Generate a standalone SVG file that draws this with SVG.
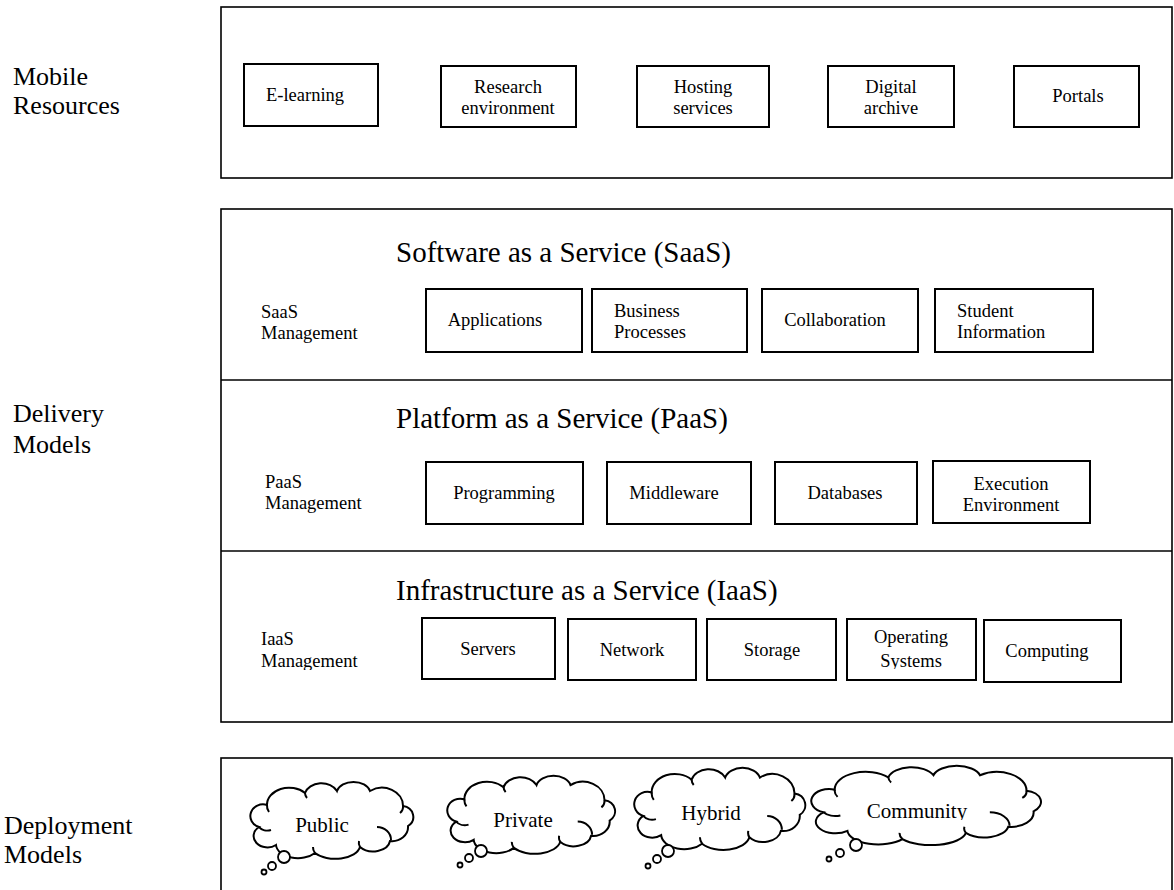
<svg xmlns="http://www.w3.org/2000/svg" xmlns:xlink="http://www.w3.org/1999/xlink" width="1174" height="890" viewBox="0 0 1174 890">
<style>
.frame{fill:none;stroke:#000;stroke-width:1.6}
.box{fill:#fff;stroke:#000;stroke-width:2}
.t{font-family:"Liberation Serif","Times New Roman",serif;fill:#000}
.lbl{font-size:18.5px;text-anchor:middle}
.lbs{font-size:18.5px}
.side{font-size:26px}
.title{font-size:29px}
.ct{font-size:21px;text-anchor:middle}
.cl{fill:#fff;stroke:#000;stroke-width:2;vector-effect:non-scaling-stroke}
.cin{fill:none;stroke:#000;stroke-width:2;vector-effect:non-scaling-stroke}
.bub{fill:#fff;stroke:#000;stroke-width:1.8}
</style>
<defs>
<path id="cloudShape" class="cl" d="M 14 22 A 22 17 0 0 1 52 10 A 17 13 0 0 1 84 8 A 17 12 0 0 1 117 8 A 21 18 0 0 1 150 23 A 12 11 0 0 1 155 43 A 16 14 0 0 1 137 58 A 17 12 0 0 1 107 64 A 25 14 0 0 1 62 70 A 22 14 0 0 1 23 62 A 11 9 0 0 1 6 44 A 12 11 0 0 1 14 22 Z"/>
<path id="cloudInner" class="cin" d="M 14 22 A 10 10 0 0 0 16 29 M 124 44 A 14 13 0 0 1 138 57 M 6 44 A 10 8 0 0 0 18 47 M 52 10 A 8 8 0 0 0 54 15 M 107 64 A 8 8 0 0 1 106 58 M 62 70 A 12 10 0 0 1 60 64 M 150 23 A 8 8 0 0 1 147 30"/>
<clipPath id="clipIaasMgmt"><rect x="240" y="620" width="170" height="50"/></clipPath>
<clipPath id="clipSystems"><rect x="850" y="622" width="124" height="47"/></clipPath>
<clipPath id="clipCommunity"><rect x="850" y="790" width="140" height="30"/></clipPath>
</defs>

<!-- side labels -->
<g id="label-mobile"><text class="t side" x="13" y="85">Mobile</text><text class="t side" x="13" y="114">Resources</text></g>
<g id="label-delivery"><text class="t side" x="13" y="422">Delivery</text><text class="t side" x="13" y="453">Models</text></g>
<g id="label-deployment"><text class="t side" x="4" y="834">Deployment</text><text class="t side" x="4" y="863">Models</text></g>

<!-- frames -->
<g id="frame-mobile"><rect class="frame" x="221" y="7" width="951" height="171"/></g>
<g id="frame-delivery">
<rect class="frame" x="221" y="209" width="951" height="513"/>
<line class="frame" x1="221" y1="380" x2="1172" y2="380"/>
<line class="frame" x1="221" y1="551" x2="1172" y2="551"/>
</g>
<g id="frame-deployment"><rect class="frame" x="221" y="758" width="951" height="140"/></g>

<!-- Mobile resources -->
<g id="n-elearning"><rect class="box" x="244" y="64" width="134" height="62"/><text class="t lbl" x="305" y="101">E-learning</text></g>
<g id="n-research"><rect class="box" x="441" y="66" width="135" height="61"/><text class="t lbl" x="508" y="93">Research</text><text class="t lbl" x="508" y="114">environment</text></g>
<g id="n-hosting"><rect class="box" x="637" y="66" width="132" height="61"/><text class="t lbl" x="703" y="93">Hosting</text><text class="t lbl" x="703" y="114">services</text></g>
<g id="n-digital"><rect class="box" x="828" y="66" width="126" height="61"/><text class="t lbl" x="891" y="93">Digital</text><text class="t lbl" x="891" y="114">archive</text></g>
<g id="n-portals"><rect class="box" x="1014" y="66" width="125" height="61"/><text class="t lbl" x="1078" y="102">Portals</text></g>

<!-- SaaS -->
<g id="saas-title"><text class="t title" x="396" y="262">Software as a Service (SaaS)</text></g>
<g id="saas-mgmt"><text class="t lbs" x="261" y="318">SaaS</text><text class="t lbs" x="261" y="339">Management</text></g>
<g id="n-applications"><rect class="box" x="426" y="289" width="156" height="63"/><text class="t lbl" x="495" y="326">Applications</text></g>
<g id="n-business"><rect class="box" x="592" y="289" width="155" height="63"/><text class="t lbs" x="614" y="317">Business</text><text class="t lbs" x="614" y="338">Processes</text></g>
<g id="n-collaboration"><rect class="box" x="762" y="289" width="156" height="63"/><text class="t lbl" x="835" y="326">Collaboration</text></g>
<g id="n-student"><rect class="box" x="935" y="289" width="158" height="63"/><text class="t lbs" x="957" y="317">Student</text><text class="t lbs" x="957" y="338">Information</text></g>

<!-- PaaS -->
<g id="paas-title"><text class="t title" x="396" y="428">Platform as a Service (PaaS)</text></g>
<g id="paas-mgmt"><text class="t lbs" x="265" y="488">PaaS</text><text class="t lbs" x="265" y="509">Management</text></g>
<g id="n-programming"><rect class="box" x="426" y="462" width="157" height="62"/><text class="t lbl" x="504" y="499">Programming</text></g>
<g id="n-middleware"><rect class="box" x="607" y="462" width="144" height="62"/><text class="t lbl" x="674" y="499">Middleware</text></g>
<g id="n-databases"><rect class="box" x="775" y="462" width="142" height="62"/><text class="t lbl" x="845" y="499">Databases</text></g>
<g id="n-execution"><rect class="box" x="933" y="461" width="157" height="62"/><text class="t lbl" x="1011" y="490">Execution</text><text class="t lbl" x="1011" y="511">Environment</text></g>

<!-- IaaS -->
<g id="iaas-title"><text class="t title" x="396" y="600">Infrastructure as a Service (IaaS)</text></g>
<g id="iaas-mgmt" clip-path="url(#clipIaasMgmt)"><text class="t lbs" x="261" y="645">IaaS</text><text class="t lbs" x="261" y="667">Management</text></g>
<g id="n-servers"><rect class="box" x="422" y="618" width="133" height="61"/><text class="t lbl" x="488" y="655">Servers</text></g>
<g id="n-network"><rect class="box" x="568" y="619" width="128" height="61"/><text class="t lbl" x="632" y="656">Network</text></g>
<g id="n-storage"><rect class="box" x="707" y="619" width="129" height="61"/><text class="t lbl" x="772" y="656">Storage</text></g>
<g id="n-operating"><rect class="box" x="847" y="619" width="129" height="61"/><g clip-path="url(#clipSystems)"><text class="t lbl" x="911" y="643">Operating</text><text class="t lbl" x="911" y="667">Systems</text></g></g>
<g id="n-computing"><rect class="box" x="984" y="620" width="137" height="62"/><text class="t lbl" x="1047" y="657">Computing</text></g>

<!-- Deployment clouds -->
<g id="n-public">
<use xlink:href="#cloudShape" href="#cloudShape" transform="translate(253,783) scale(1,1)"/>
<use xlink:href="#cloudInner" href="#cloudInner" transform="translate(253,783) scale(1,1)"/>
<circle class="bub" cx="284" cy="857" r="6"/><circle class="bub" cx="272" cy="866" r="4"/><circle class="bub" cx="264" cy="872" r="2.5"/>
<text class="t ct" x="322" y="832">Public</text>
</g>
<g id="n-private">
<use xlink:href="#cloudShape" href="#cloudShape" transform="translate(450,777) scale(1.03,1.013)"/>
<use xlink:href="#cloudInner" href="#cloudInner" transform="translate(450,777) scale(1.03,1.013)"/>
<circle class="bub" cx="481" cy="851" r="6"/><circle class="bub" cx="469" cy="858" r="4"/><circle class="bub" cx="460" cy="865" r="2.5"/>
<text class="t ct" x="523" y="827">Private</text>
</g>
<g id="n-hybrid">
<use xlink:href="#cloudShape" href="#cloudShape" transform="translate(637,769) scale(1.05,1.067)"/>
<use xlink:href="#cloudInner" href="#cloudInner" transform="translate(637,769) scale(1.05,1.067)"/>
<circle class="bub" cx="668" cy="851" r="6"/><circle class="bub" cx="657" cy="859" r="4"/><circle class="bub" cx="648" cy="866" r="2.5"/>
<text class="t ct" x="711" y="820">Hybrid</text>
</g>
<g id="n-community">
<use xlink:href="#cloudShape" href="#cloudShape" transform="translate(815,767) scale(1.41,1.03)"/>
<use xlink:href="#cloudInner" href="#cloudInner" transform="translate(815,767) scale(1.41,1.03)"/>
<circle class="bub" cx="856" cy="845" r="6"/><circle class="bub" cx="840" cy="853" r="4"/><circle class="bub" cx="829" cy="859" r="2.5"/>
<text class="t ct" x="917" y="818" clip-path="url(#clipCommunity)">Community</text>
</g>

<g id="connectors"></g>
</svg>
